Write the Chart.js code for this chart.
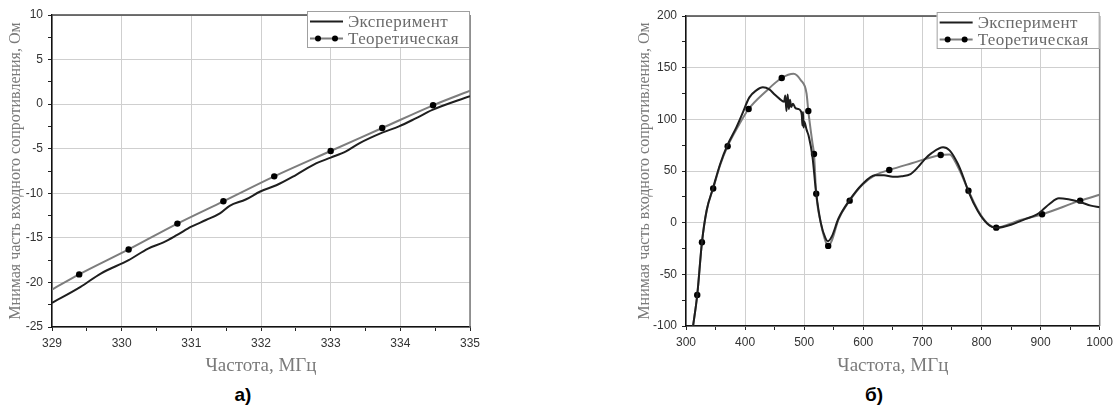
<!DOCTYPE html>
<html>
<head>
<meta charset="utf-8">
<script src="https://cdn.jsdelivr.net/npm/chart.js@4.4.1/dist/chart.umd.min.js"></script>
<style>
  body { margin: 0; background: #fff; width: 1118px; height: 410px; position: relative; overflow: hidden; }
  .box { position: absolute; top: 0; height: 380px; }
  #boxA { left: 0; width: 500px; }
  #boxB { left: 620px; width: 498px; }
  .cap { position: absolute; top: 384px; transform: translateX(-50%);
         font: bold 19px "Liberation Sans Narrow", "Liberation Sans", Arial, sans-serif; color: #000; }
</style>
</head>
<body>
<div class="box" id="boxA"><canvas id="chartA"></canvas></div>
<div class="box" id="boxB"><canvas id="chartB"></canvas></div>
<div class="cap" style="left:243px">а)</div>
<div class="cap" style="left:874px">б)</div>

<script>
  "use strict";

  // Panel a) data
  var expAX = [329, 329.41, 329.7, 330.1, 330.38, 330.6, 330.79, 331.0, 331.21, 331.41, 331.55, 331.78,
               331.99, 332.22, 332.5, 332.79, 333.0, 333.22, 333.41, 333.74, 333.98, 334.22, 334.46, 335];
  var expAY = [-22.3, -20.5, -19.0, -17.5, -16.2, -15.5, -14.7, -13.75, -13.0, -12.25, -11.4, -10.7,
               -9.8, -9.1, -7.95, -6.65, -6.0, -5.3, -4.4, -3.2, -2.5, -1.6, -0.65, 0.9];
  var thAX = [329, 329.39, 330.1, 330.8, 331.46, 332.19, 333.0, 333.74, 334.47, 335];
  var thAY = [-20.8, -19.1, -16.3, -13.4, -10.9, -8.1, -5.26, -2.68, -0.13, 1.5];
  var thADots = [1, 2, 3, 4, 5, 6, 7, 8];

  // Panel б) data
  var expBX = [312, 319, 327, 335, 346, 358, 370, 385, 395, 407, 419, 430, 441, 450, 458, 466,
               468, 470, 472, 474, 476, 478, 481, 485, 490, 493, 496, 497, 498, 499, 500, 504,
               508, 514, 520, 528, 536, 540, 547, 558, 577, 598, 620, 635, 650, 665, 680, 693,
               705, 715, 735, 746, 760, 770, 778, 794, 810, 825, 850, 872, 894, 903, 915, 931,
               947, 967, 985, 1000];
  var expBY = [-100, -70, -19, 12, 34, 57, 75, 92, 105, 121, 128, 131, 129, 124, 120, 117,
               123, 108, 124, 110, 119, 112, 115, 111, 110, 109, 104, 94, 107, 92, 98, 90,
               83, 64, 30, 0, -15, -18, -13, 4, 22, 37, 46, 46, 44.5, 45, 47, 54,
               62, 67, 73, 70, 57, 43, 30, 11, -1, -5, -2, 3, 8, 12, 18, 23.6,
               22.6, 20, 16.5, 15];
  var thBX = [312, 319, 327, 335, 346, 358, 370.5, 390, 406, 435, 462, 482, 494, 504, 507, 514,
              516.6, 520.4, 528, 536, 540.6, 547, 558, 577, 598, 620, 644, 682, 731, 746, 760,
              778, 794, 810, 825, 866, 902.6, 967, 1000];
  var thBY = [-100, -70, -19, 12, 33, 56, 74, 95, 110, 127, 140, 144, 138, 125, 108, 77,
              66.5, 28, 0, -18, -22.5, -17, 3, 21.3, 36.5, 46, 51, 57.5, 65.5, 66, 54,
              31, 12, -0.6, -4.8, 2.6, 8.1, 21.3, 27];
  var thBDots = [1, 2, 4, 6, 8, 10, 14, 16, 17, 20, 23, 26, 28, 31, 34, 36, 37];

  var xTitle = "Частота, МГц";
  var yTitle = "Мнимая часть входного сопротивления, Ом";

  function toPoints(xs, ys) {
    return xs.map(function (x, i) { return { x: x, y: ys[i] }; });
  }

  function dotRadius(dots, n) {
    var r = [];
    for (var i = 0; i < n; i++) r.push(dots.indexOf(i) >= 0 ? 3.2 : 0);
    return r;
  }

  // frame on top/right + boxed legend in the upper right corner
  var framePlugin = {
    id: "frame",
    beforeDatasetsDraw: function (chart) {
      var a = chart.chartArea, ctx = chart.ctx;
      ctx.save();
      ctx.lineWidth = 1.5;
      ctx.strokeStyle = "#444";
      ctx.beginPath(); ctx.moveTo(a.left, a.top); ctx.lineTo(a.right, a.top); ctx.stroke();
      ctx.strokeStyle = "#7a7a7a";
      ctx.beginPath(); ctx.moveTo(a.right, a.top); ctx.lineTo(a.right, a.bottom); ctx.stroke();
      ctx.restore();
    },
    afterDraw: function (chart) {
      var a = chart.chartArea, ctx = chart.ctx;
      var w = 163, h = 37;
      var x0 = a.right - w, y0 = a.top - 4;
      ctx.save();
      ctx.fillStyle = "#fff";
      ctx.fillRect(x0, y0, w, h);
      ctx.strokeStyle = "#a0a0a0";
      ctx.lineWidth = 1;
      ctx.strokeRect(x0 + 0.5, y0 + 0.5, w - 1, h - 1);
      ctx.font = '17px "Liberation Serif", "DejaVu Serif", serif';
      ctx.letterSpacing = "0.4px";
      ctx.textBaseline = "middle";
      chart.data.datasets.forEach(function (ds, i) {
        var cy = y0 + 10.5 + i * 17;
        ctx.strokeStyle = ds.borderColor;
        ctx.lineWidth = 2;
        ctx.beginPath(); ctx.moveTo(x0 + 3, cy); ctx.lineTo(x0 + 36, cy); ctx.stroke();
        if (i === 1) {
          ctx.fillStyle = "#000";
          [x0 + 11, x0 + 28].forEach(function (px) {
            ctx.beginPath(); ctx.arc(px, cy, 3, 0, Math.PI * 2); ctx.fill();
          });
        }
        ctx.fillStyle = "#6a6a6a";
        ctx.fillText(ds.label, x0 + 41, cy + 1);
      });
      ctx.restore();
    }
  };

  function makeChart(id, o) {
    var ctx = document.getElementById(id).getContext("2d");
    return new Chart(ctx, {
      type: "line",
      data: {
        datasets: [
          {
            label: "Эксперимент",
            data: toPoints(o.ex, o.ey),
            borderColor: "#1e1e1e",
            borderWidth: 2,
            pointRadius: 0,
            cubicInterpolationMode: "monotone",
            fill: false
          },
          {
            label: "Теоретическая",
            data: toPoints(o.tx, o.ty),
            borderColor: "#7d7d7d",
            borderWidth: 2,
            pointRadius: dotRadius(o.dots, o.tx.length),
            pointBackgroundColor: "#000",
            pointBorderColor: "#000",
            pointBorderWidth: 0,
            cubicInterpolationMode: "monotone",
            fill: false
          }
        ]
      },
      options: {
        responsive: true,
        maintainAspectRatio: false,
        animation: false,
        events: [],
        layout: { padding: o.pad },
        plugins: { legend: { display: false }, tooltip: { enabled: false } },
        scales: {
          x: {
            type: "linear",
            min: o.xMin, max: o.xMax,
            afterFit: function (s) { s.height = o.xH; },
            border: { color: "#111", width: 1.5 },
            grid: {
              color: function (c) { return c.tick && c.tick.value % o.xMajor === 0 ? "#cfcfcf" : "rgba(0,0,0,0)"; },
              tickColor: "#222",
              tickLength: 4,
              lineWidth: 1
            },
            ticks: {
              stepSize: o.xStep,
              maxTicksLimit: 100,
              autoSkip: false,
              maxRotation: 0,
              padding: 5,
              color: "#333",
              font: { family: "'Liberation Sans', Arial, sans-serif", size: 12 },
              callback: function (v) { return v % o.xMajor === 0 ? v : ""; }
            },
            title: {
              display: true,
              text: xTitle,
              color: "#7a7a7a",
              padding: { top: 0, bottom: 3 },
              font: { family: "'Liberation Serif', 'DejaVu Serif', serif", size: 19 }
            }
          },
          y: {
            min: o.yMin, max: o.yMax,
            afterFit: function (s) { s.width = o.yW; },
            border: { color: "#111", width: 1.5 },
            grid: {
              color: function (c) { return c.tick && c.tick.value % o.yMajor === 0 ? "#cfcfcf" : "rgba(0,0,0,0)"; },
              tickColor: "#222",
              tickLength: 4,
              lineWidth: 1
            },
            ticks: {
              stepSize: o.yStep,
              maxTicksLimit: 100,
              autoSkip: false,
              padding: 5,
              color: "#333",
              font: { family: "'Liberation Sans', Arial, sans-serif", size: 12 },
              callback: function (v) { return v % o.yMajor === 0 ? v : ""; }
            },
            title: {
              display: true,
              text: yTitle,
              color: "#7a7a7a",
              padding: { top: o.yTitlePad, bottom: 0 },
              font: { family: "'Liberation Serif', 'DejaVu Serif', serif", size: 16 }
            }
          }
        }
      },
      plugins: [framePlugin]
    });
  }

  makeChart("chartA", {
    ex: expAX, ey: expAY, tx: thAX, ty: thAY, dots: thADots,
    xMin: 329, xMax: 335, xStep: 0.5, xMajor: 1,
    yMin: -25, yMax: 10, yStep: 2.5, yMajor: 5,
    xH: 53, yW: 52, yTitlePad: 6,
    pad: { left: 0, top: 15, right: 30, bottom: 0 }
  });

  makeChart("chartB", {
    ex: expBX, ey: expBY, tx: thBX, ty: thBY, dots: thBDots,
    xMin: 300, xMax: 1000, xStep: 50, xMajor: 100,
    yMin: -100, yMax: 200, yStep: 25, yMajor: 50,
    xH: 54, yW: 66, yTitlePad: 15,
    pad: { left: 0, top: 16, right: 15, bottom: 0 }
  });
</script>
</body>
</html>
